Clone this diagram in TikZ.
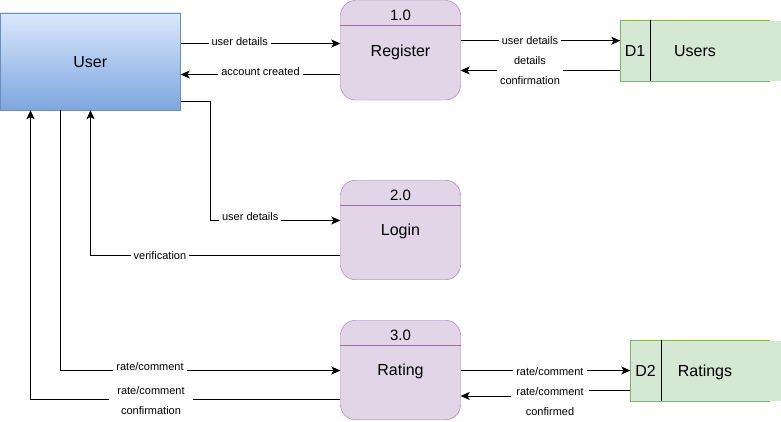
\documentclass[tikz,border=0pt]{standalone}
\usepackage{fontspec}
\setmainfont{Liberation Sans}
\usetikzlibrary{arrows.meta,calc}
\definecolor{usertop}{HTML}{DAE8FC}
\definecolor{userbot}{HTML}{7EA6E0}
\definecolor{userline}{HTML}{6C8EBF}
\definecolor{procfill}{HTML}{E1D5E7}
\definecolor{procline}{HTML}{9673A6}
\definecolor{storefill}{HTML}{D5E8D4}
\definecolor{storeline}{HTML}{82B366}
\begin{document}
\begin{tikzpicture}[x=1pt,y=-1pt,
  userbox/.style={draw=userline, top color=usertop, bottom color=userbot, minimum width=180.5pt, minimum height=97.3pt, inner sep=0pt, text height=11.5pt, text depth=0pt, font=\fontsize{16}{19}\selectfont},
  procbox/.style={draw=procline, fill=procfill, rounded corners=15pt, minimum width=120pt, minimum height=99.5pt, inner sep=0pt, text height=11.5pt, text depth=0pt, font=\fontsize{16}{19}\selectfont},
  numtxt/.style={inner sep=0pt, font=\fontsize{15}{18}\selectfont},
  storebox/.style={fill=storefill, minimum height=60pt, inner sep=0pt},
  storetxt/.style={inner sep=0pt, text height=11.5pt, text depth=0pt, font=\fontsize{16}{19}\selectfont},
  lbl/.style={fill=white, inner ysep=1pt, inner xsep=3pt, font=\fontsize{11}{13}\selectfont},
  lbltwo/.style={fill=white, inner ysep=1pt, inner xsep=3pt, align=center, font=\fontsize{11}{20}\selectfont},
  flow/.style={line width=1pt, -{Stealth[length=9pt,width=8pt,inset=2.2pt]}}
]
\useasboundingbox (0,0) rectangle (781,421);

% helper levels
\coordinate (y41) at (0,40.7);
\coordinate (y43) at (0,43.5);
\coordinate (y70) at (0,70.5);
\coordinate (y74) at (0,74.5);
\coordinate (y101) at (0,101);
\coordinate (y220) at (0,220.5);
\coordinate (y255) at (0,255.5);
\coordinate (y370) at (0,370.5);
\coordinate (y390) at (0,390.5);
\coordinate (y396) at (0,396);
\coordinate (y399) at (0,399.5);
\coordinate (x30) at (30.5,0);
\coordinate (x60) at (60.5,0);
\coordinate (x90) at (90.5,0);
\coordinate (x210) at (210.5,0);
\coordinate (x550) at (550,0);

% nodes
\node[userbox] (user) at (90.25,61.35) {User};

\node[procbox] (reg) at (400.5,50.25) {Register};
\draw[procline] ($(reg.north west)+(0,25)$) -- ($(reg.north east)+(0,25)$);
\node[numtxt] (regn) at ($(reg.north)+(0,15.5)$) {1.0};

\node[procbox] (login) at (400.5,230) {Login};
\draw[procline] ($(login.north west)+(0,25)$) -- ($(login.north east)+(0,25)$);
\node[numtxt] (loginn) at ($(login.north)+(0,15.5)$) {2.0};

\node[procbox] (rate) at (400.5,370) {Rating};
\draw[procline] ($(rate.north west)+(0,25)$) -- ($(rate.north east)+(0,25)$);
\node[numtxt] (raten) at ($(rate.north)+(0,15.5)$) {3.0};

\node[storebox, minimum width=160.5pt] (d1) at (700.75,50.5) {};
\draw[storeline] ($(d1.north west)+(150,0)$) -- (d1.north west) -- (d1.south west) -- ($(d1.south west)+(150,0)$);
\draw ($(d1.north west)+(30,0)$) -- ($(d1.south west)+(30,0)$);
\node[storetxt] (d1id) at (635,50.5) {D1};
\node[storetxt] (d1name) at (695,50.5) {Users};

\node[storebox, minimum width=150.5pt] (d2) at (705.75,370.5) {};
\draw[storeline] ($(d2.north west)+(140,0)$) -- (d2.north west) -- (d2.south west) -- ($(d2.south west)+(140,0)$);
\draw ($(d2.north west)+(30.5,0)$) -- ($(d2.south west)+(30.5,0)$);
\node[storetxt] (d2id) at (645.5,370.5) {D2};
\node[storetxt] (d2name) at (705,370.5) {Ratings};

% connectors
\draw[flow] (user.east |- y43) -- node[lbl, pos=0.37, yshift=2pt] (l1) {user details} (reg.west |- y43);
\draw[flow] (reg.west |- y74) -- node[lbl, pos=0.5, yshift=3pt] (l2) {account created} (user.east |- y74);
\draw[flow] (reg.east |- y41) -- node[lbl, pos=0.434] (l3) {user details} (d1.west |- y41);
\draw[flow] (d1.west |- y70) -- node[lbltwo, pos=0.566] (l4) {details\\confirmation} (reg.east |- y70);

\draw[flow] (user.east |- y101) -- (x210 |- y101) -- (x210 |- y220) -- node[lbl, pos=0.306, yshift=3.5pt] (l5) {user details} (login.west |- y220);
\draw[flow] (login.west |- y255) -- node[lbl, pos=0.722] (l6) {verification} (x90 |- y255) -- (x90 |- user.south);

\draw[flow] (x60 |- user.south) -- (x60 |- y370) -- node[lbl, pos=0.32, yshift=4pt] (l7) {rate/comment} (rate.west |- y370);
\draw[flow] (rate.west |- y399) -- node[lbltwo, pos=0.611, yshift=-1.5pt, inner xsep=8pt] (l8) {rate/comment\\confirmation} (x30 |- y399) -- (x30 |- user.south);

\draw[flow] (rate.east |- y370) -- node[lbl, pos=0.526, yshift=-1pt] (l9) {rate/comment} (d2.west |- y370);
\draw[flow] (d2.west |- y390) -- (x550 |- y390) -- node[lbltwo, pos=0.5, yshift=-8pt, inner xsep=5pt] (l10) {rate/comment\\confirmed} (x550 |- y396) -- (rate.east |- y396);
\end{tikzpicture}
\end{document}
